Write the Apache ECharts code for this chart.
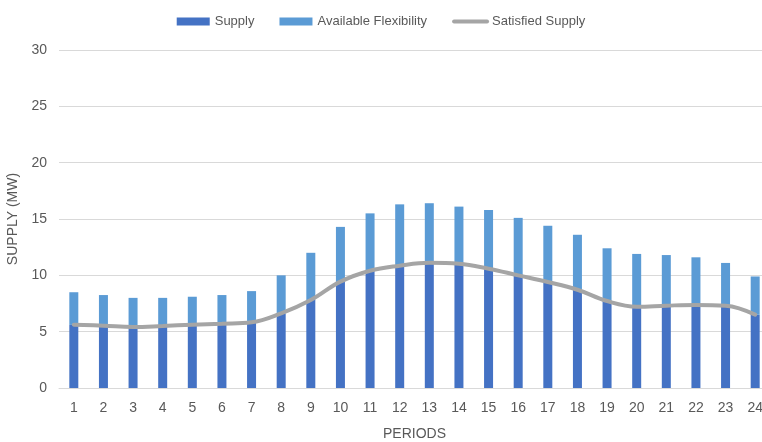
<!DOCTYPE html>
<html><head><meta charset="utf-8">
<script src="https://cdn.jsdelivr.net/npm/echarts@6/dist/echarts.min.js"></script>
<style>html,body{margin:0;padding:0;background:#fff;}#c{width:762px;height:442px;}</style>
</head><body><div id="c"></div>
<script>
const periods = ['1','2','3','4','5','6','7','8','9','10','11','12','13','14','15','16','17','18','19','20','21','22','23','24'];
const supply = [5.6,5.5,5.4,5.5,5.6,5.7,5.8,6.6,7.8,9.4,10.4,10.9,11.1,11.0,10.6,10.0,9.4,8.7,7.7,7.2,7.3,7.4,7.3,6.5];
const flexibility = [2.9,2.75,2.6,2.5,2.5,2.55,2.8,3.4,4.2,4.9,5.1,5.4,5.3,5.1,5.2,5.1,5.0,4.9,4.7,4.7,4.5,4.2,3.8,3.4];
const satisfied = [5.62,5.53,5.41,5.5,5.62,5.71,5.83,6.63,7.81,9.44,10.41,10.86,11.12,11.03,10.59,10.0,9.41,8.72,7.72,7.22,7.31,7.37,7.31,6.51];
const yTicks = [0,5,10,15,20,25,30];

const chart = echarts.init(document.getElementById('c'), null, {renderer:'canvas'});
const font = 'Liberation Sans';
chart.setOption({
  animation:false,
  textStyle:{fontFamily:font},
  legend:{
    top:10, left:'center', itemWidth:33, itemHeight:8, itemGap:25,
    textStyle:{color:'#595959', fontSize:13, fontFamily:font},
    data:[{name:'Supply', icon:'rect'},{name:'Available Flexibility', icon:'rect'},
          {name:'Satisfied Supply', itemStyle:{opacity:0}, lineStyle:{width:4, color:'#A5A5A5', cap:'round'}}]
  },
  grid:{left:59, width:711, top:50, bottom:54, containLabel:false, outerBoundsMode:'none'},
  xAxis:{
    type:'category', data:periods,
    name:'PERIODS', nameLocation:'middle', nameGap:39,
    nameTextStyle:{color:'#595959', fontSize:14, fontFamily:font},
    axisLine:{lineStyle:{color:'#D9D9D9', width:1}},
    axisTick:{show:false},
    axisLabel:{color:'#595959', fontSize:14, margin:13, interval:0, fontFamily:font}
  },
  yAxis:{
    type:'value', min:yTicks[0], max:yTicks[yTicks.length-1], interval:5,
    name:'SUPPLY (MW)', nameLocation:'middle', nameGap:35, nameRotate:90,
    nameTextStyle:{color:'#595959', fontSize:14, fontFamily:font},
    axisLine:{show:false}, axisTick:{show:false},
    axisLabel:{color:'#595959', fontSize:14, margin:12, fontFamily:font},
    splitLine:{lineStyle:{color:'#D9D9D9', width:1}}
  },
  series:[
    {name:'Supply', type:'bar', stack:'s', data:supply, barWidth:9, itemStyle:{color:'#4472C4'}},
    {name:'Available Flexibility', type:'bar', stack:'s', data:flexibility, barWidth:9, itemStyle:{color:'#5B9BD5'}},
    {name:'Satisfied Supply', type:'line', data:satisfied, smooth:0.4, symbol:'none',
     lineStyle:{color:'#A5A5A5', width:4, cap:'round'}, itemStyle:{color:'#A5A5A5'}, z:5}
  ]
});
</script></body></html>
